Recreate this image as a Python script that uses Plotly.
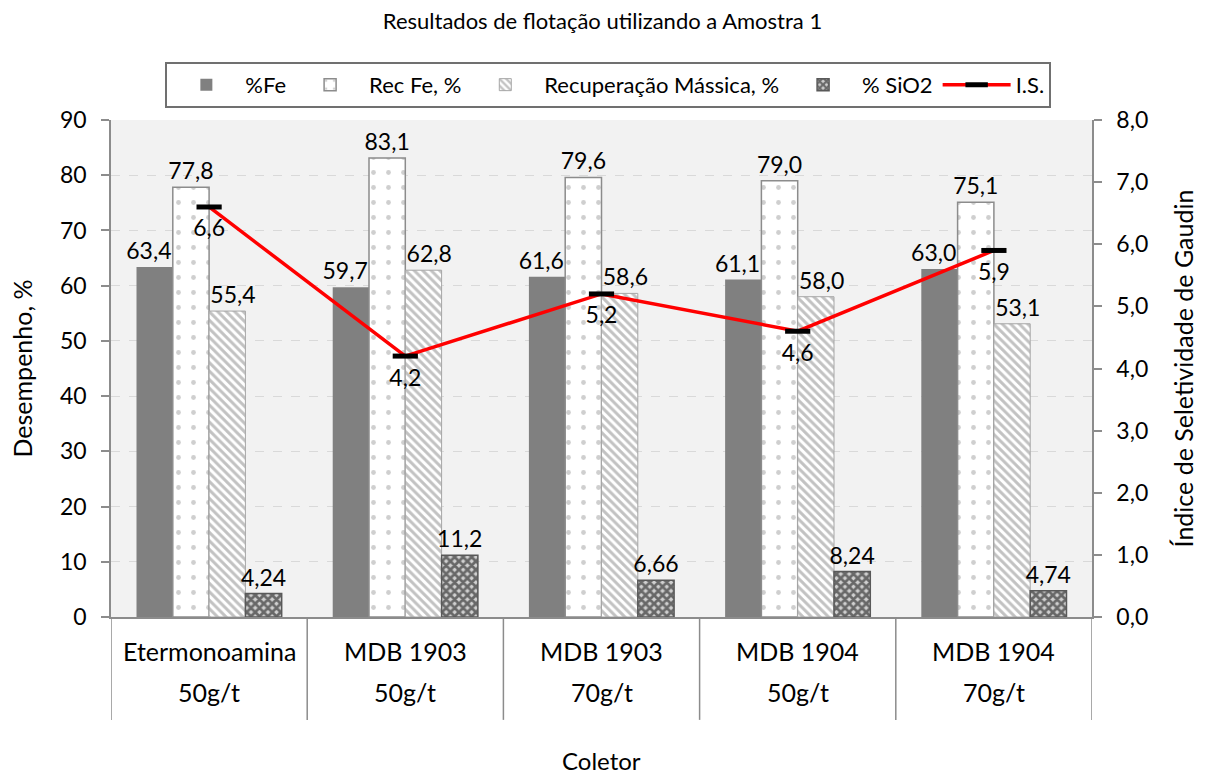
import plotly.graph_objects as go

coletores = ["Etermonoamina", "MDB 1903", "MDB 1903", "MDB 1904", "MDB 1904"]
dosagens = ["50g/t", "50g/t", "70g/t", "50g/t", "70g/t"]
cats = ["C1", "C2", "C3", "C4", "C5"]

fe = [63.4, 59.7, 61.6, 61.1, 63.0]
rec_fe = [77.8, 83.1, 79.6, 79.0, 75.1]
rec_mass = [55.4, 62.8, 58.6, 58.0, 53.1]
sio2 = [4.24, 11.2, 6.66, 8.24, 4.74]
ise = [6.6, 4.2, 5.2, 4.6, 5.9]

FONT = "Lato"
NUM = dict(family=FONT, size=23, color="black")
LAB = dict(family=FONT, size=25, color="black")
PAD = "\u2002"


def fmt1(v):
    return f"{v:.1f}".replace(".", ",")


def fmt3(v):
    return f"{v:.3g}".replace(".", ",")


bar_common = dict(textposition="outside", textfont=NUM, cliponaxis=False, constraintext="none")

fig = go.Figure()
fig.add_trace(go.Bar(
    name="%Fe", x=cats, y=fe, marker=dict(color="#808080", line=dict(width=0)),
    text=[fmt1(v) + PAD for v in fe], **bar_common))
fig.add_trace(go.Bar(
    name="Rec Fe, %", x=cats, y=rec_fe,
    marker=dict(color="white", line=dict(color="#8c8c8c", width=1.5),
                pattern=dict(shape=".", fgcolor="#a0a0a0", bgcolor="white", size=15, solidity=0.08)),
    text=[fmt1(v) for v in rec_fe], **bar_common))
fig.add_trace(go.Bar(
    name="Recuperação Mássica, %", x=cats, y=rec_mass,
    marker=dict(color="white", line=dict(color="#a6a6a6", width=1),
                pattern=dict(shape="\\", fgcolor="#858585", bgcolor="white", size=6, solidity=0.5)),
    text=[PAD + fmt1(v) for v in rec_mass], **bar_common))
fig.add_trace(go.Bar(
    name="% SiO2", x=cats, y=sio2,
    marker=dict(color="black", line=dict(color="#595959", width=1.5),
                pattern=dict(shape="x", fgcolor="black", bgcolor="#d0d0d0", size=6, solidity=0.7)),
    text=[fmt3(v) for v in sio2], **bar_common))
fig.add_trace(go.Scatter(
    name="I.S.", x=cats, y=ise, yaxis="y2", mode="lines+markers+text",
    line=dict(color="#ff0000", width=3.5),
    marker=dict(symbol="line-ew", size=18, line=dict(color="black", width=5)),
    text=[fmt1(v) for v in ise], textposition="bottom center", textfont=NUM, cliponaxis=False))

shapes = []
for i in range(len(cats) + 1):
    shapes.append(dict(type="line", xref="x", yref="paper", x0=i - 0.5, x1=i - 0.5,
                       y0=0, y1=-0.207, line=dict(color="#8c8c8c", width=1.5)))

annotations = []
for i, c in enumerate(cats):
    annotations.append(dict(x=c, xref="x", y=-0.068, yref="paper", text=coletores[i],
                            showarrow=False, font=LAB, yanchor="middle"))
    annotations.append(dict(x=c, xref="x", y=-0.151, yref="paper", text=dosagens[i],
                            showarrow=False, font=LAB, yanchor="middle"))
annotations.append(dict(x=0.5, xref="paper", y=-0.289, yref="paper", text="Coletor",
                        showarrow=False, font=dict(family=FONT, size=24, color="black"),
                        yanchor="middle"))

fig.update_layout(
    width=1205, height=774,
    margin=dict(l=111, r=113, t=120, b=157, autoexpand=False),
    paper_bgcolor="white", plot_bgcolor="#f2f2f2",
    separators=",.",
    barmode="group", bargap=0.26, bargroupgap=0,
    font=dict(family=FONT, size=22, color="black"),
    title=dict(text="Resultados de flotação utilizando a Amostra 1", x=0.5, xanchor="center",
               y=0.972, yanchor="middle", font=dict(family=FONT, size=22, color="black")),
    showlegend=True,
    legend=dict(orientation="h", x=0.507, xanchor="center", y=1.117, yanchor="top",
                bordercolor="#707070", borderwidth=2, bgcolor="white",
                font=dict(family=FONT, size=22, color="black"),
                itemwidth=68, tracegroupgap=0),
    xaxis=dict(type="category", showticklabels=False, showline=True, linecolor="#8c8c8c",
               linewidth=1.5, ticks="", range=[-0.5, 4.5]),
    yaxis=dict(range=[0, 90], dtick=10, showline=True, linecolor="#8c8c8c", linewidth=1.5,
               ticks="outside", ticklen=8, tickcolor="#8c8c8c", tickwidth=1.5,
               ticklabelstandoff=10, automargin=False,
               showgrid=True, gridcolor="#d9d9d9", griddash="dash", gridwidth=1,
               zeroline=False, tickfont=NUM,
               title=dict(text="Desempenho, %", font=LAB, standoff=20)),
    yaxis2=dict(range=[0, 8], dtick=1, tickformat=".1f", overlaying="y", side="right",
                showline=True, linecolor="#8c8c8c", linewidth=1.5,
                ticks="outside", ticklen=8, tickcolor="#8c8c8c", tickwidth=1.5,
                ticklabelstandoff=10, automargin=False,
                showgrid=False, zeroline=False, tickfont=NUM,
                title=dict(text="Índice de Seletividade de Gaudin", font=LAB, standoff=28)),
    shapes=shapes, annotations=annotations,
)

fig.write_html("out.html")
